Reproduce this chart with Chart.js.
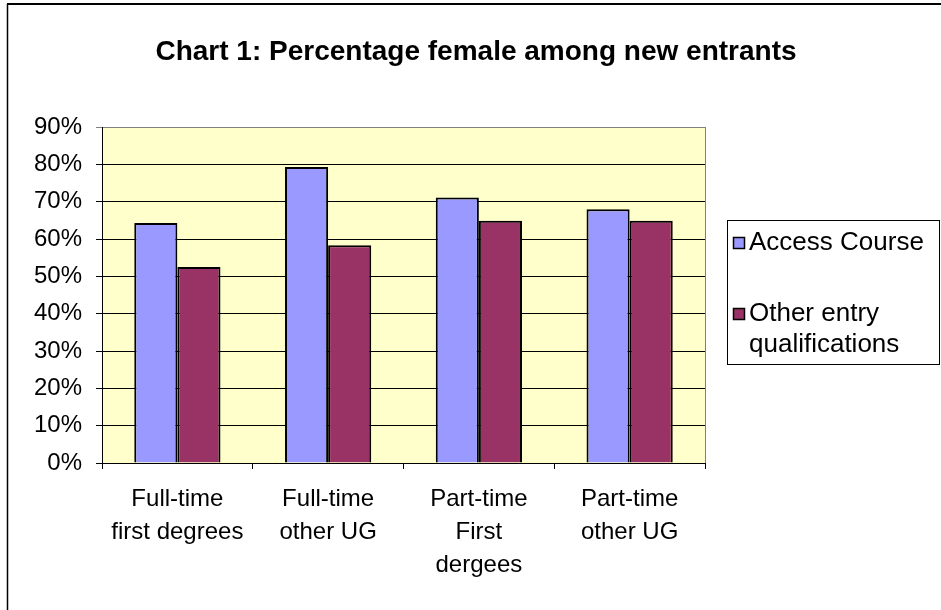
<!DOCTYPE html>
<html>
<head>
<meta charset="utf-8">
<script src="https://cdn.jsdelivr.net/npm/chart.js@4/dist/chart.umd.min.js"></script>
<style>
  html, body { margin: 0; padding: 0; background: #ffffff; }
  #wrap { width: 941px; height: 610px; position: relative; }
</style>
</head>
<body>
<div id="wrap"><canvas id="c" width="941" height="610"></canvas></div>
<script>
// ---- data ----
const titleText = 'Chart 1: Percentage female among new entrants';
const categories = [
  ['Full-time', 'first degrees'],
  ['Full-time', 'other UG'],
  ['Part-time', 'First', 'dergees'],
  ['Part-time', 'other UG']
];
const seriesNames = ['Access Course', 'Other entry qualifications'];
const accessCourse = [64.3, 79.3, 71.1, 68.0];
const otherEntry = [52.5, 58.3, 64.9, 64.9];
const yTicks = [0, 10, 20, 30, 40, 50, 60, 70, 80, 90];

const FONT = '"Liberation Sans", Arial, Helvetica, sans-serif';

const plotBg = {
  id: 'plotBg',
  beforeDraw(chart) {
    const { ctx, chartArea: a } = chart;
    ctx.save();
    ctx.fillStyle = '#FFFFCC';
    ctx.fillRect(a.left, a.top, a.right - a.left, a.bottom - a.top);
    ctx.restore();
  },
  afterDatasetsDraw(chart) {
    const { ctx, chartArea: a } = chart;
    ctx.save();
    ctx.strokeStyle = '#808080';
    ctx.lineWidth = 1;
    ctx.beginPath();
    ctx.moveTo(a.right + 0.5, a.top);
    ctx.lineTo(a.right + 0.5, a.bottom);
    ctx.stroke();
    ctx.restore();
  }
};

const frameAndTitle = {
  id: 'frameAndTitle',
  afterDraw(chart) {
    const { ctx, width, height } = chart;
    ctx.save();
    ctx.strokeStyle = '#000000';
    ctx.lineWidth = 2;
    ctx.beginPath();
    ctx.moveTo(7, 4);
    ctx.lineTo(width, 4);
    ctx.stroke();
    ctx.lineWidth = 1.5;
    ctx.beginPath();
    ctx.moveTo(7.5, 4);
    ctx.lineTo(7.5, height);
    ctx.stroke();
    ctx.font = 'bold 28px ' + FONT;
    ctx.fillStyle = '#000000';
    ctx.textAlign = 'center';
    ctx.textBaseline = 'middle';
    ctx.fillText(titleText, 476, 52);
    ctx.restore();
  }
};

const sideLegend = {
  id: 'sideLegend',
  afterDraw(chart) {
    const { ctx } = chart;
    const box = { x: 727.5, y: 220.5, w: 212, h: 144 };
    ctx.save();
    ctx.strokeStyle = '#000000';
    ctx.lineWidth = 1;
    ctx.strokeRect(box.x, box.y, box.w, box.h);
    ctx.font = '26px ' + FONT;
    ctx.fillStyle = '#000000';
    ctx.textBaseline = 'middle';
    ctx.textAlign = 'left';
    const itemY = [243, 314];
    const lineH = 31;
    chart.data.datasets.forEach((ds, i) => {
      const words = ds.label.split(' ');
      const lines = [];
      let cur = '';
      words.forEach(w => {
        const t = cur ? cur + ' ' + w : w;
        if (ctx.measureText(t).width > 185 && cur) { lines.push(cur); cur = w; } else { cur = t; }
      });
      if (cur) lines.push(cur);
      const y0 = itemY[i];
      ctx.fillStyle = ds.backgroundColor;
      ctx.fillRect(733, y0 - 6, 12, 12);
      ctx.strokeStyle = '#000000';
      ctx.lineWidth = 1.5;
      ctx.strokeRect(733.5, y0 - 5.5, 11, 11);
      ctx.fillStyle = '#000000';
      lines.forEach((ln, k) => ctx.fillText(ln, 749, y0 + k * lineH));
    });
    ctx.restore();
  }
};

new Chart(document.getElementById('c'), {
  type: 'bar',
  data: {
    labels: categories,
    datasets: [
      { label: seriesNames[0], data: accessCourse, backgroundColor: '#9999FF', borderColor: '#000000', borderWidth: 2 },
      { label: seriesNames[1], data: otherEntry, backgroundColor: '#993366', borderColor: '#000000', borderWidth: 2 }
    ]
  },
  options: {
    responsive: false,
    animation: false,
    devicePixelRatio: 1,
    layout: { padding: { left: 10, right: 236, top: 127, bottom: 0 } },
    datasets: { bar: { categoryPercentage: 0.572, barPercentage: 1.0 } },
    plugins: {
      legend: { display: false },
      tooltip: { enabled: false },
      title: { display: false }
    },
    scales: {
      x: {
        offset: true,
        grid: { offset: true, drawOnChartArea: false, drawTicks: true, tickLength: 6, color: '#000000', lineWidth: 1 },
        border: { display: true, color: '#000000', width: 1 },
        ticks: {
          color: '#000000', maxRotation: 0, minRotation: 0, autoSkip: false, padding: 13.5,
          font: { family: FONT, size: 24, lineHeight: 1.375 }
        },
        afterFit(scale) { scale.height = 147; }
      },
      y: {
        min: 0, max: 90,
        afterBuildTicks(scale) { scale.ticks = yTicks.map(v => ({ value: v })); },
        grid: {
          drawTicks: true, tickLength: 6, lineWidth: 1,
          color: (c) => (c.tick && c.tick.value === 90) ? '#808080' : '#000000'
        },
        border: { display: true, color: '#000000', width: 1 },
        ticks: {
          color: '#000000', padding: 14,
          font: { family: FONT, size: 24 },
          callback: (v) => v + '%'
        },
        afterFit(scale) { scale.width = 92; }
      }
    }
  },
  plugins: [plotBg, frameAndTitle, sideLegend]
});
</script>
</body>
</html>
